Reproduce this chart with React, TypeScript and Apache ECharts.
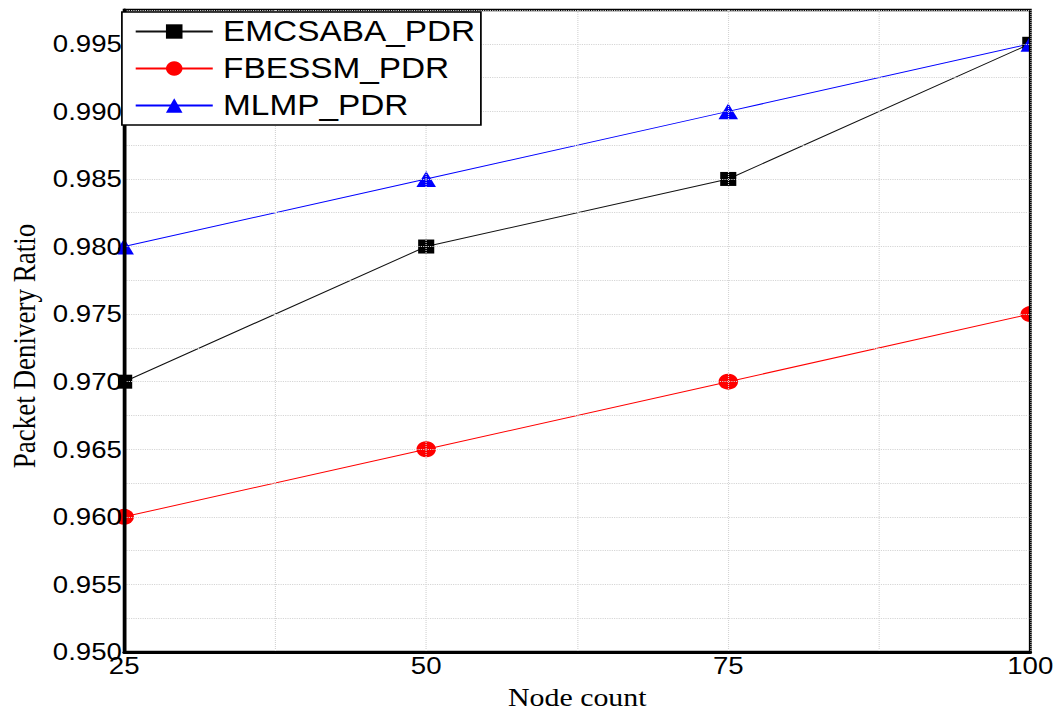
import React, { useEffect, useRef } from "react";
import * as echarts from "echarts";

// ---- data ----
const nodeCounts = [25, 50, 75, 100];
const emcsabaPdr = [0.97, 0.98, 0.985, 0.995];
const fbessmPdr = [0.96, 0.965, 0.97, 0.975];
const mlmpPdr = [0.98, 0.985, 0.99, 0.995];
const seriesNames = ["EMCSABA_PDR", "FBESSM_PDR", "MLMP_PDR"];
const xAxisTitle = "Node count";
const yAxisTitle = "Packet Denivery Ratio";

// ---- layout ----
const STRETCH = 1.15;
const PAGE_W = 1060;
const PAGE_H = 715;
const W = PAGE_W / STRETCH;
const G_LEFT = 118 / STRETCH;
const G_RIGHT = 30 / STRETCH;
const G_TOP = 10;
const G_BOTTOM = PAGE_H - 652;

const sans = "'Liberation Sans', Arial, sans-serif";
const serif = "'Liberation Serif', 'Times New Roman', serif";

function pairs(ys: number[]) {
  return nodeCounts.map((x, i) => [x, ys[i]]);
}

export default function App() {
  const ref = useRef<HTMLDivElement>(null);
  useEffect(() => {
    document.body.style.margin = "0";
    if (!ref.current) return;
    const chart = echarts.init(ref.current, undefined, { renderer: "svg" });
    const maskStyle = { fill: "#fff" };
    chart.setOption({
      animation: false,
      backgroundColor: "#fff",
      grid: {
        left: G_LEFT,
        right: G_RIGHT,
        top: G_TOP,
        bottom: G_BOTTOM,
        show: true,
        borderColor: "#000",
        borderWidth: 2.5,
        z: 6,
      },
      legend: {
        orient: "vertical",
        left: 106,
        top: 12,
        z: 10,
        backgroundColor: "#fff",
        borderColor: "#000",
        borderWidth: 1.5,
        borderRadius: 0,
        padding: [5, 5, 5, 11],
        itemGap: 8,
        itemWidth: 67,
        itemHeight: 18,
        textStyle: { fontSize: 29, fontFamily: sans, color: "#000", padding: [0, 0, 0, 4] },
        data: seriesNames,
      },
      xAxis: {
        type: "value",
        min: 25,
        max: 100,
        interval: 12.5,
        z: 6,
        name: xAxisTitle,
        nameLocation: "middle",
        nameGap: 32,
        nameTextStyle: { fontFamily: serif, fontSize: 26, color: "#000" },
        axisLine: { show: true, lineStyle: { color: "#000", width: 3 } },
        axisTick: { show: false },
        axisLabel: {
          margin: 2,
          fontSize: 24,
          fontFamily: sans,
          color: "#000",
          formatter: (v: number) => (Math.abs(v % 25) < 1e-9 ? String(v) : ""),
        },
        splitLine: { show: true, lineStyle: { color: "#d4d4d4", type: "dotted", width: 1 } },
      },
      yAxis: {
        type: "value",
        min: 0.95,
        max: 0.9975,
        interval: 0.0025,
        z: 6,
        name: yAxisTitle,
        nameLocation: "middle",
        nameGap: 72,
        nameTextStyle: { fontFamily: serif, fontSize: 27, color: "#000", padding: [0, 30, 0, 0] },
        axisLine: { show: true, lineStyle: { color: "#000", width: 3 } },
        axisTick: { show: false },
        axisLabel: {
          margin: 2,
          fontSize: 24,
          fontFamily: sans,
          color: "#000",
          formatter: (v: number) => {
            const k = Math.round(v * 1000);
            if (Math.abs(v * 1000 - k) < 1e-6 && k % 5 === 0) return v.toFixed(3);
            return "";
          },
        },
        splitLine: { show: true, lineStyle: { color: "#d4d4d4", type: "dotted", width: 1 } },
      },
      graphic: {
        z: 5,
        elements: [
          { type: "rect", z: 5, z2: 1000, silent: true, shape: { x: 0, y: 0, width: G_LEFT, height: PAGE_H }, style: maskStyle },
          { type: "rect", z: 5, z2: 1000, silent: true, shape: { x: W - G_RIGHT, y: 0, width: G_RIGHT + 2, height: PAGE_H }, style: maskStyle },
          { type: "rect", z: 5, z2: 1000, silent: true, shape: { x: 0, y: 0, width: W + 2, height: G_TOP }, style: maskStyle },
          { type: "rect", z: 5, z2: 1000, silent: true, shape: { x: 0, y: PAGE_H - G_BOTTOM, width: W + 2, height: G_BOTTOM }, style: maskStyle },
        ],
      },
      series: [
        {
          name: seriesNames[0],
          type: "line",
          z: 3,
          data: pairs(emcsabaPdr),
          symbol: "rect",
          symbolSize: [14, 14],
          color: "#000",
          lineStyle: { color: "#111", width: 1 },
          itemStyle: { color: "#000", borderWidth: 0 },
        },
        {
          name: seriesNames[1],
          type: "line",
          z: 3,
          data: pairs(fbessmPdr),
          symbol: "circle",
          symbolSize: [17, 16],
          color: "#ff0000",
          lineStyle: { color: "#ff0000", width: 1 },
          itemStyle: { color: "#ff0000", borderWidth: 0 },
        },
        {
          name: seriesNames[2],
          type: "line",
          z: 3,
          data: pairs(mlmpPdr),
          symbol: "triangle",
          symbolSize: [17, 16],
          color: "#0000ff",
          lineStyle: { color: "#0000ff", width: 1 },
          itemStyle: { color: "#0000ff", borderWidth: 0 },
        },
      ],
    });
    return () => chart.dispose();
  }, []);

  return (
    <div style={{ width: PAGE_W, height: PAGE_H, overflow: "hidden", position: "relative", background: "#fff" }}>
      <div
        ref={ref}
        style={{ width: W, height: PAGE_H, transform: `scaleX(${STRETCH})`, transformOrigin: "0 0" }}
      />
    </div>
  );
}
